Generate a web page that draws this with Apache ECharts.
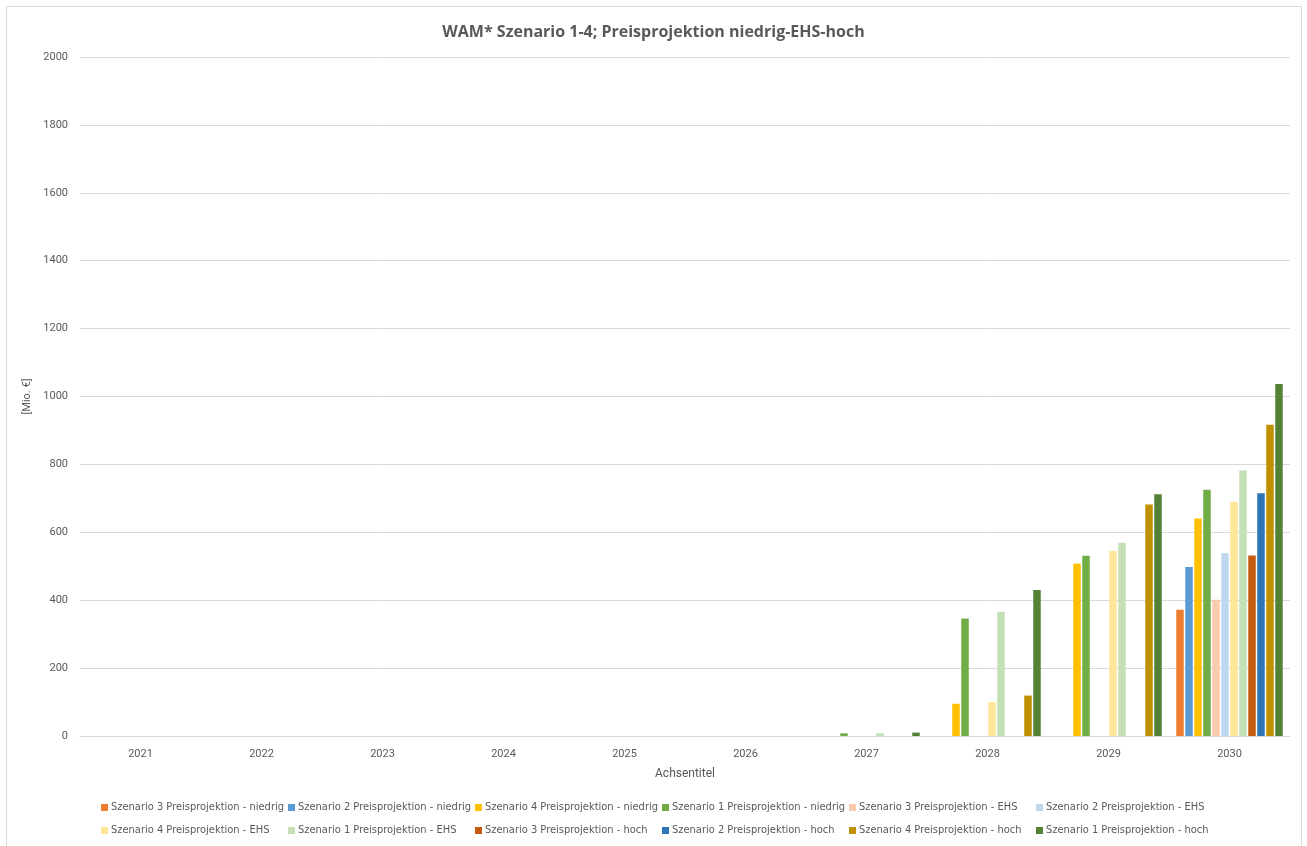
<!DOCTYPE html>
<html>
<head>
<meta charset="utf-8">
<script src="https://cdn.jsdelivr.net/npm/echarts@6/dist/echarts.min.js"></script>
<style>
  html, body { margin: 0; padding: 0; background: #fff; }
  #frame { position: absolute; left: 6px; top: 6px; width: 1296px; height: 860px;
           border: 1px solid #d9d9d9; box-sizing: border-box; }
  #chart { position: absolute; left: 0; top: 0; width: 1307px; height: 846px; }
</style>
</head>
<body>
<div id="frame"></div>
<div id="chart"></div>
<script>
// Jahre auf der Kategorieachse
const years = ['2021', '2022', '2023', '2024', '2025', '2026', '2027', '2028', '2029', '2030'];

// Mehrkosten je Szenario und Preisprojektion [Mio. €]
const s3Niedrig = [0, 0, 0, 0, 0, 0, 0, 0, 0, 372];
const s2Niedrig = [0, 0, 0, 0, 0, 0, 0, 0, 0, 498];
const s4Niedrig = [0, 0, 0, 0, 0, 0, 0, 95, 508, 641];
const s1Niedrig = [0, 0, 0, 0, 0, 0, 8, 346, 531, 725];
const s3EHS     = [0, 0, 0, 0, 0, 0, 0, 0, 0, 401];
const s2EHS     = [0, 0, 0, 0, 0, 0, 0, 0, 0, 538];
const s4EHS     = [0, 0, 0, 0, 0, 0, 0, 100, 545, 690];
const s1EHS     = [0, 0, 0, 0, 0, 0, 8, 366, 569, 782];
const s3Hoch    = [0, 0, 0, 0, 0, 0, 0, 0, 0, 532];
const s2Hoch    = [0, 0, 0, 0, 0, 0, 0, 0, 0, 715];
const s4Hoch    = [0, 0, 0, 0, 0, 0, 0, 119, 682, 917];
const s1Hoch    = [0, 0, 0, 0, 0, 0, 10, 430, 712, 1037];

const seriesNames = [
  'Szenario 3 Preisprojektion - niedrig',
  'Szenario 2 Preisprojektion - niedrig',
  'Szenario 4 Preisprojektion - niedrig',
  'Szenario 1 Preisprojektion - niedrig',
  'Szenario 3 Preisprojektion - EHS',
  'Szenario 2 Preisprojektion - EHS',
  'Szenario 4 Preisprojektion - EHS',
  'Szenario 1 Preisprojektion - EHS',
  'Szenario 3 Preisprojektion - hoch',
  'Szenario 2 Preisprojektion - hoch',
  'Szenario 4 Preisprojektion - hoch',
  'Szenario 1 Preisprojektion - hoch'
];
const seriesValues = [s3Niedrig, s2Niedrig, s4Niedrig, s1Niedrig,
                      s3EHS, s2EHS, s4EHS, s1EHS,
                      s3Hoch, s2Hoch, s4Hoch, s1Hoch];
const seriesColors = ['#ED7D31', '#5B9BD5', '#FFC000', '#70AD47',
                      '#F8CBAD', '#BDD7EE', '#FFE699', '#C5E0B4',
                      '#C55A11', '#2E75B6', '#BF9000', '#548235'];

const yTicks = { min: 0, max: 2000, interval: 200 };

const textColor = '#595959';
const baseFont = 'Roboto, "Noto Sans", sans-serif';
const narrowFont = '"Liberation Sans Narrow", "DejaVu Sans Condensed", Roboto, sans-serif';

const chart = echarts.init(document.getElementById('chart'), null, { renderer: 'canvas' });

chart.setOption({
  animation: false,
  backgroundColor: 'transparent',
  title: {
    text: 'WAM* Szenario 1-4; Preisprojektion niedrig-EHS-hoch',
    left: 'center',
    top: 19,
    textStyle: { color: textColor, fontSize: 16, fontWeight: 'bold', fontFamily: '"Open Sans", sans-serif' }
  },
  grid: { left: 80, right: 17, top: 57, bottom: 110, containLabel: false },
  legend: {
    left: 101,
    top: 796,
    width: 1160,
    itemWidth: 7,
    itemHeight: 7,
    itemGap: 0,
    icon: 'rect',
    data: seriesNames,
    textStyle: { color: textColor, fontSize: 11, fontFamily: narrowFont, width: 177, lineHeight: 23, padding: [0, 0, 0, -2] },
    padding: 0
  },
  xAxis: {
    type: 'category',
    data: years,
    name: 'Achsentitel',
    nameLocation: 'middle',
    nameGap: 32,
    nameTextStyle: { color: textColor, fontSize: 12, fontFamily: baseFont },
    axisLine: { lineStyle: { color: '#d9d9d9' } },
    axisTick: { show: false },
    axisLabel: { color: textColor, fontSize: 11, fontFamily: baseFont, margin: 13 }
  },
  yAxis: {
    type: 'value',
    min: yTicks.min,
    max: yTicks.max,
    interval: yTicks.interval,
    name: '[Mio. €]',
    nameLocation: 'middle',
    nameGap: 33,
    nameTextStyle: { color: textColor, fontSize: 11, fontFamily: baseFont },
    axisLine: { show: false },
    axisTick: { show: false },
    axisLabel: { color: textColor, fontSize: 11, fontFamily: baseFont, margin: 12, formatter: (v) => String(v) },
    splitLine: { lineStyle: { color: '#d9d9d9' } }
  },
  series: seriesNames.map((name, i) => ({
    name: name,
    type: 'bar',
    data: seriesValues[i],
    barGap: '20%',
    barCategoryGap: '12%',
    itemStyle: { color: seriesColors[i] }
  }))
});
</script>
</body>
</html>
